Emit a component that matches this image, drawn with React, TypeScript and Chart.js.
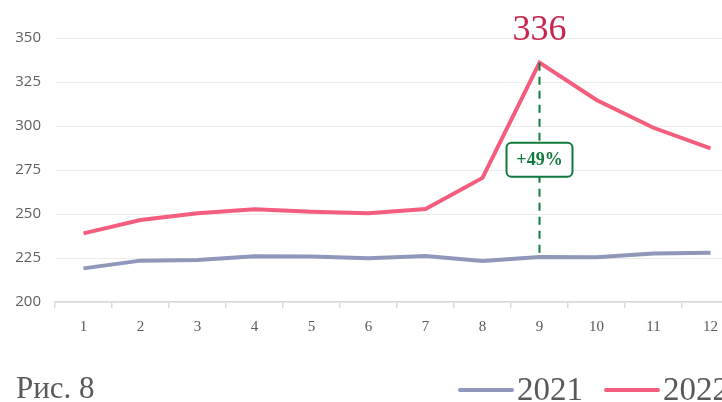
import React, { useEffect, useRef } from "react";
import { Chart, registerables } from "chart.js";

Chart.register(...registerables);

const months = ["1", "2", "3", "4", "5", "6", "7", "8", "9", "10", "11", "12"];
const values2021 = [219.1, 223.5, 223.9, 226.0, 225.8, 224.8, 226.1, 223.3, 225.6, 225.4, 227.6, 228.0];
const values2022 = [239.0, 246.6, 250.4, 252.7, 251.3, 250.4, 252.8, 270.5, 336.0, 314.8, 299.0, 287.3];
const yTicks = [200, 225, 250, 275, 300, 325, 350];
const peakIndex = 8;
const peakLabel = "336";
const growthLabel = "+49%";
const figureLabel = "Рис. 8";
const seriesNames = ["2021", "2022"];

const COLOR_2021 = "#8f97bb";
const COLOR_2022 = "#f45d7d";
const GREEN = "#117a3d";
const TEXT_GRAY = "#595959";
const SERIF = "'Liberation Serif', 'DejaVu Serif', serif";

const overlayPlugin = {
  id: "overlay",
  afterDatasetsDraw(chart: any) {
    const ctx = chart.ctx;
    const x = chart.scales.x;
    const y = chart.scales.y;
    const px = x.getPixelForValue(peakIndex);
    const yTop = y.getPixelForValue(values2022[peakIndex]);
    const yBot = y.getPixelForValue(values2021[peakIndex]);
    ctx.save();
    // dashed connector
    ctx.strokeStyle = GREEN;
    ctx.lineWidth = 2;
    ctx.setLineDash([8, 6]);
    ctx.beginPath();
    ctx.moveTo(px, yTop);
    ctx.lineTo(px, yBot);
    ctx.stroke();
    ctx.setLineDash([]);
    // growth box
    const cy = (yTop + yBot) / 2;
    const bw = 66, bh = 34, r = 5;
    const bx = px - bw / 2, by = cy - bh / 2;
    ctx.beginPath();
    ctx.roundRect(bx, by, bw, bh, r);
    ctx.fillStyle = "#ffffff";
    ctx.fill();
    ctx.lineWidth = 2;
    ctx.strokeStyle = GREEN;
    ctx.stroke();
    ctx.fillStyle = GREEN;
    ctx.font = `bold 18px ${SERIF}`;
    ctx.textAlign = "center";
    ctx.textBaseline = "middle";
    ctx.fillText(growthLabel, px, cy + 1);
    // peak value label
    ctx.fillStyle = "#c9244c";
    ctx.font = `36px ${SERIF}`;
    ctx.textBaseline = "alphabetic";
    ctx.fillText(peakLabel, px, 40);
    // figure caption
    ctx.fillStyle = TEXT_GRAY;
    ctx.textAlign = "left";
    ctx.font = `31px ${SERIF}`;
    ctx.fillText(figureLabel, 16, 398);
    // legend
    const items = [
      { name: seriesNames[0], color: COLOR_2021, x0: 460 },
      { name: seriesNames[1], color: COLOR_2022, x0: 606 },
    ];
    ctx.font = `33px ${SERIF}`;
    ctx.lineCap = "round";
    for (const it of items) {
      ctx.strokeStyle = it.color;
      ctx.lineWidth = 4;
      ctx.beginPath();
      ctx.moveTo(it.x0, 390);
      ctx.lineTo(it.x0 + 52, 390);
      ctx.stroke();
      ctx.fillStyle = TEXT_GRAY;
      ctx.fillText(it.name, it.x0 + 57, 400);
    }
    ctx.restore();
  },
};

export default function App() {
  const ref = useRef<HTMLCanvasElement | null>(null);
  useEffect(() => {
    if (!ref.current) return;
    const chart = new Chart(ref.current, {
      type: "line",
      data: {
        labels: months,
        datasets: [
          {
            label: seriesNames[0],
            data: values2021,
            borderColor: COLOR_2021,
            backgroundColor: COLOR_2021,
            borderWidth: 4,
            pointRadius: 0,
            tension: 0,
          },
          {
            label: seriesNames[1],
            data: values2022,
            borderColor: COLOR_2022,
            backgroundColor: COLOR_2022,
            borderWidth: 4,
            pointRadius: 0,
            tension: 0,
          },
        ],
      },
      options: {
        animation: false,
        responsive: false,
        layout: { padding: { top: 38, right: 21, left: 0, bottom: 0 } },
        plugins: { legend: { display: false }, tooltip: { enabled: false } },
        scales: {
          x: {
            offset: true,
            grid: {
              offset: true,
              drawOnChartArea: false,
              drawTicks: true,
              tickLength: 6,
              color: "#d9d9d9",
              lineWidth: 1.5,
            },
            border: { color: "#d9d9d9", width: 1.5 },
            ticks: {
              color: TEXT_GRAY,
              font: { family: SERIF, size: 15 },
              padding: 10,
              maxRotation: 0,
            },
            afterFit(scale: any) {
              scale.height = 100;
            },
          },
          y: {
            min: 200,
            max: 350,
            afterBuildTicks(scale: any) {
              scale.ticks = yTicks.map((v) => ({ value: v }));
            },
            grid: { color: "#ececec", lineWidth: 1, drawTicks: false },
            border: { display: false },
            ticks: {
              color: "#606060",
              font: { family: "'Open Sans', 'Liberation Sans', sans-serif", size: 15 },
              padding: 14,
            },
            afterFit(scale: any) {
              scale.width = 55;
            },
          },
        },
      },
      plugins: [overlayPlugin],
    });
    return () => chart.destroy();
  }, []);
  return (
    <div style={{ position: "absolute", left: 0, top: 0, width: 722, height: 402, overflow: "hidden" }}>
      <canvas ref={ref} width={760} height={402} style={{ display: "block", width: 760, height: 402 }} />
    </div>
  );
}
